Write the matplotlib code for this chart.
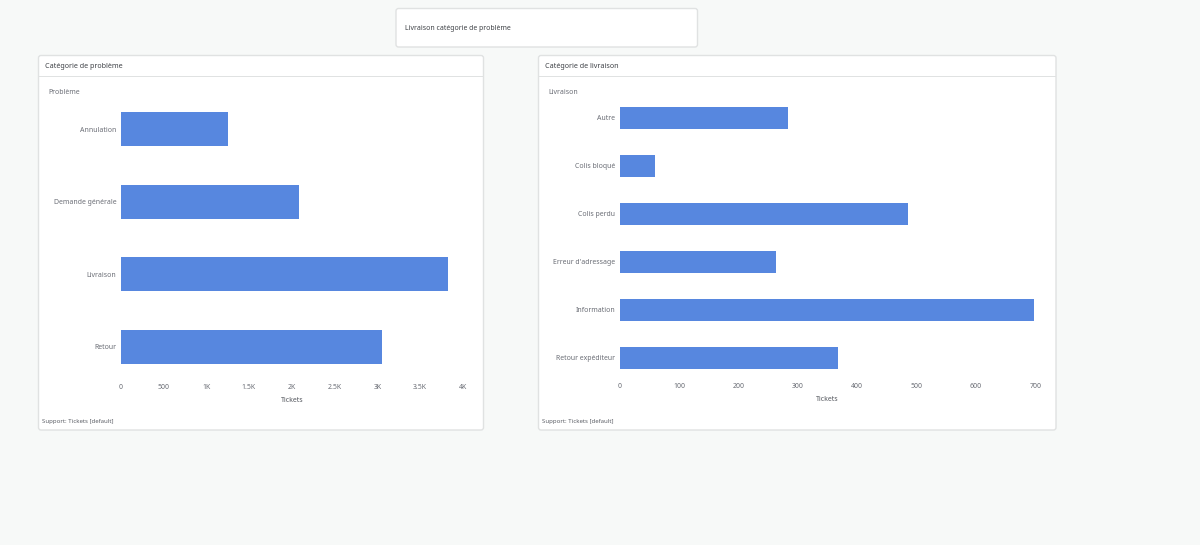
"""
Two support ticket dashboards panels: problem categories and delivery categories
"""

from matplotlib import pyplot as plt
from matplotlib.patches import FancyBboxPatch, Rectangle
from matplotlib.ticker import FuncFormatter

WIDTH = 1200
HEIGHT = 545

BACKGROUND = '#f7f9f8'
BORDER = '#e0e2e2'
BAR_COLOR = '#5787df'
TITLE_COLOR = '#3f4247'
LABEL_COLOR = '#6b6e76'

problem_names = ['Annulation', 'Demande générale', 'Livraison', 'Retour']
problem_tickets = [1250, 2085, 3820, 3055]
problem_ticks = [0, 500, 1000, 1500, 2000, 2500, 3000, 3500, 4000]

delivery_names = [
    'Autre',
    'Colis bloqué',
    'Colis perdu',
    "Erreur d'adressage",
    'Information',
    'Retour expéditeur',
]
delivery_tickets = [284, 60, 486, 263, 698, 368]
delivery_ticks = [0, 100, 200, 300, 400, 500, 600, 700]

plt.rcParams['font.family'] = ['Noto Sans', 'DejaVu Sans']


def short_number(value, _pos=None):
    if value >= 1000:
        return f'{value / 1000:g}K'
    return f'{value:g}'


def to_fig(x, y):
    # pixel position from the top left corner -> figure fraction
    return x / WIDTH, 1 - y / HEIGHT


def add_box(fig, left, top, right, bottom):
    box = FancyBboxPatch(
        (left, HEIGHT - bottom),
        right - left,
        bottom - top,
        boxstyle='round,pad=0,rounding_size=2.5',
        transform=None,
        facecolor='white',
        edgecolor=BORDER,
        linewidth=1.0,
    )
    fig.add_artist(box)


def add_text(fig, x, y, text, size=5.0, color=LABEL_COLOR):
    fx, fy = to_fig(x, y)
    fig.text(fx, fy, text, fontsize=size, color=color, va='center', ha='left')


def add_panel(fig, left, right, title, subtitle, footer):
    top, bottom = 55.5, 430
    add_box(fig, left, top, right, bottom)
    fig.add_artist(
        Rectangle(
            (left + 0.5, HEIGHT - 77),
            right - left - 1,
            1,
            transform=None,
            facecolor=BORDER,
            edgecolor='none',
        )
    )
    add_text(fig, left + 6.5, 66.5, title, size=5.2, color=TITLE_COLOR)
    add_text(fig, left + 9.5, 92, subtitle)
    add_text(fig, left + 3.5, 421.5, footer, size=4.35, color='#5c5f66')


def add_bars(fig, extent, names, values, ticks, bar_height, formatter=None):
    left, top, right, bottom = extent
    ax = fig.add_axes(
        [left / WIDTH, 1 - bottom / HEIGHT, (right - left) / WIDTH, (bottom - top) / HEIGHT],
        zorder=5,
    )
    ax.patch.set_alpha(0)
    positions = list(range(len(names)))
    ax.barh(positions, values, height=bar_height, color=BAR_COLOR)
    ax.set_xlim(ticks[0], ticks[-1])
    ax.set_ylim(len(names) - 0.5, -0.5)
    ax.set_yticks(positions, names)
    ax.set_xticks(ticks)
    if formatter:
        ax.xaxis.set_major_formatter(formatter)
    ax.tick_params(axis='both', length=0, labelsize=5.0, labelcolor=LABEL_COLOR)
    ax.tick_params(axis='x', pad=0.8)
    ax.tick_params(axis='y', pad=3)
    ax.set_xlabel('Tickets', fontsize=5.0, color='#55585f', labelpad=4.5)
    for spine in ax.spines.values():
        spine.set_visible(False)
    return ax


fig = plt.figure(figsize=(WIDTH / 100, HEIGHT / 100), dpi=100, facecolor=BACKGROUND)

add_box(fig, 396, 8.5, 697.5, 47)
add_text(fig, 405, 28.5, 'Livraison catégorie de problème', color=TITLE_COLOR)

add_panel(fig, 38.5, 483.5, 'Catégorie de problème', 'Problème', 'Support: Tickets [default]')
add_panel(fig, 538.5, 1056, 'Catégorie de livraison', 'Livraison', 'Support: Tickets [default]')

add_bars(
    fig,
    (120.5, 93, 463, 383),
    problem_names,
    problem_tickets,
    problem_ticks,
    0.47,
    FuncFormatter(short_number),
)
add_bars(fig, (619.5, 94, 1035.5, 382), delivery_names, delivery_tickets, delivery_ticks, 0.47)

fig.savefig('out.png', dpi=100, facecolor=BACKGROUND)
